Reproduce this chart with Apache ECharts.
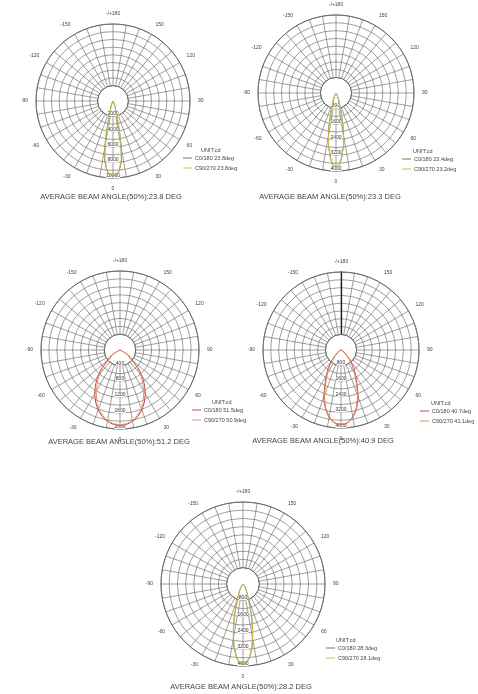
<!DOCTYPE html>
<html><head><meta charset="utf-8">
<script src="https://cdn.jsdelivr.net/npm/echarts@6/dist/echarts.min.js"></script>
<style>html,body{margin:0;padding:0;background:#fff}#c{width:478px;height:694px}</style>
</head><body><div id="c"></div>
<script>
// ---- data ----
const beamAngles = [-90,-60,-45,-40,-35,-30,-25,-20,-15,-12,-10,-8,-5,-3,0,3,5,8,10,12,15,20,25,30,35,40,45,60,90];

const titles = [
  'AVERAGE BEAM ANGLE(50%):23.8 DEG',
  'AVERAGE BEAM ANGLE(50%):23.3 DEG',
  'AVERAGE BEAM ANGLE(50%):51.2 DEG',
  'AVERAGE BEAM ANGLE(50%):40.9 DEG',
  'AVERAGE BEAM ANGLE(50%):28.2 DEG'
];
const seriesNames = [
  ['C0/180 23.8deg','C90/270 23.8deg'],
  ['C0/180 23.4deg','C90/270 23.2deg'],
  ['C0/180 51.5deg','C90/270 50.9deg'],
  ['C0/180 40.7deg','C90/270 41.1deg'],
  ['C0/180 28.3deg','C90/270 28.1deg']
];
const ringLabels1 = [2000,4000,6000,8000,10000];
const ringLabels2 = [800,1600,2400,3200,4000];
const ringLabels3 = [400,800,1200,1600,2000];
const ringLabels4 = [800,1600,2400,3200,4000];
const ringLabels5 = [800,1600,2400,3200,4000];

const chart1C0  = [0,20,40,60,90,150,300,700,1900,4100,6100,7800,9100,9500,9700,9550,9150,7900,6200,4200,2000,750,320,160,90,60,40,20,0];
const chart1C90 = [0,20,35,55,85,140,280,650,1800,3900,5900,7600,9000,9450,9650,9500,9050,7700,6000,4000,1850,700,300,150,85,55,35,20,0];
const chart2C0  = [0,10,20,30,50,90,180,420,1000,1750,2250,2750,3300,3650,3820,3650,3300,2750,2250,1750,1000,420,180,90,50,30,20,10,0];
const chart2C90 = [0,10,18,28,45,85,170,400,950,1700,2200,2750,3350,3680,3850,3680,3350,2750,2200,1700,950,400,170,85,45,28,18,10,0];
const chart3C0  = [0,240,660,880,1080,1280,1460,1620,1740,1800,1830,1860,1890,1900,1910,1900,1890,1860,1830,1800,1740,1620,1460,1280,1080,880,660,240,0];
const chart3C90 = [0,200,580,800,1000,1200,1400,1580,1710,1780,1810,1840,1870,1880,1890,1880,1870,1840,1810,1780,1710,1580,1400,1200,1000,800,580,200,0];
const chart4C0  = [0,150,500,800,1150,1500,1950,2600,3100,3350,3500,3620,3750,3800,3830,3800,3750,3620,3500,3350,3100,2600,1950,1500,1150,800,500,150,0];
const chart4C90 = [0,120,420,700,1050,1400,1850,2500,3050,3300,3460,3600,3730,3790,3810,3790,3730,3600,3460,3300,3050,2500,1850,1400,1050,700,420,120,0];
const chart5C0  = [0,20,80,120,180,280,450,800,1650,2250,2700,3150,3600,3800,3900,3800,3600,3150,2700,2250,1650,800,450,280,180,120,80,20,0];
const chart5C90 = [0,15,70,100,160,250,420,760,1600,2200,2650,3100,3560,3770,3880,3770,3560,3100,2650,2200,1600,760,420,250,160,100,70,15,0];

// ---- layout / styles ----
const layout = [
  {c:[113,101], r:77, title:[111,193], unit:[201,147], legend:[183,155], colors:['#7e7a40','#cdbb55'], ring:ringLabels1, data:[chart1C0,chart1C90]},
  {c:[336,93],  r:78, title:[330,193], unit:[413,148], legend:[402,156], colors:['#7e7a40','#cdbb55'], ring:ringLabels2, data:[chart2C0,chart2C90]},
  {c:[120,350], r:79, title:[119,438], unit:[212,399], legend:[192,407], colors:['#cc4a36','#e49a78'], ring:ringLabels3, data:[chart3C0,chart3C90]},
  {c:[341,350], r:78, title:[323,437], unit:[431,400], legend:[420,408], colors:['#cc4a36','#e08a5a'], ring:ringLabels4, data:[chart4C0,chart4C90], axisLine:true},
  {c:[243,584], r:82, title:[241,683], unit:[336,637], legend:[326,645], colors:['#7e7a40','#cdbb55'], ring:ringLabels5, data:[chart5C0,chart5C90]}
];
const FONT = 'Liberation Sans';
const GRID = '#6a6a6a';

const polar = [], angleAxis = [], radiusAxis = [], series = [], legend = [], title = [];
layout.forEach((L, i) => {
  const g = 2*i, d = 2*i+1;
  polar.push({center:L.c, radius:[L.r*0.2, L.r]});
  polar.push({center:L.c, radius:[0, L.r]});
  angleAxis.push({
    polarIndex:g, type:'value', min:-180, max:180, interval:10, startAngle:90, clockwise:false,
    axisLine:{show:true, lineStyle:{color:GRID, width:1}},
    axisTick:{show:false},
    axisLabel:{fontSize:5, margin:8, color:'#444', fontFamily:FONT,
      formatter:v => (v % 30 !== 0 || v === 180) ? '' : (v === -180 ? '-/+180' : String(v))},
    splitLine:{show:true, lineStyle:{color:GRID, width:0.65}}
  });
  angleAxis.push({
    polarIndex:d, type:'value', min:0, max:360, startAngle:270, clockwise:false,
    axisLine:{show:false}, axisTick:{show:false}, axisLabel:{show:false}, splitLine:{show:false}
  });
  radiusAxis.push({
    polarIndex:g, type:'value', min:0, max:8, interval:1,
    axisLine:{show:!!L.axisLine, lineStyle:{color:'#222', width:1.3}},
    axisTick:{show:false}, axisLabel:{show:false},
    splitLine:{show:true, lineStyle:{color:GRID, width:0.65}}
  });
  radiusAxis.push({
    polarIndex:d, type:'value', min:0, max:L.ring[L.ring.length-1], interval:L.ring[0],
    axisLine:{show:false}, axisTick:{show:false}, splitLine:{show:false},
    axisLabel:{show:true, fontSize:5, color:'#333', fontFamily:FONT, margin:0, align:'center', verticalAlign:'bottom',
      backgroundColor:'#fff', formatter:v => L.ring.indexOf(v) >= 0 ? String(v) : ''}
  });
  L.data.forEach((vals, k) => {
    series.push({
      type:'line', coordinateSystem:'polar', polarIndex:d, name:seriesNames[i][k],
      symbol:'none', silent:true, animation:false,
      lineStyle:{width:1, color:L.colors[k]}, itemStyle:{color:L.colors[k]},
      data: beamAngles.map((a, j) => [vals[j], (a + 360) % 360])
    });
  });
  legend.push({
    left:L.legend[0], top:L.legend[1], orient:'vertical', data:seriesNames[i], icon:'rect',
    itemWidth:9, itemHeight:1, itemGap:4, padding:0, selectedMode:false,
    textStyle:{fontSize:5.5, color:'#444', fontFamily:FONT, padding:[0,0,0,-2]}
  });
  title.push({text:titles[i], left:L.title[0], top:L.title[1], textAlign:'center', padding:0,
    textStyle:{fontSize:7.5, fontWeight:'normal', color:'#444', fontFamily:FONT}});
  title.push({text:'UNIT:cd', left:L.unit[0], top:L.unit[1], padding:0,
    textStyle:{fontSize:5.5, fontWeight:'normal', color:'#444', fontFamily:FONT}});
});

const chart = echarts.init(document.getElementById('c'), null, {renderer:'canvas'});
chart.setOption({backgroundColor:'#fff', animation:false, title, legend, polar, angleAxis, radiusAxis, series});
</script>
</body></html>
